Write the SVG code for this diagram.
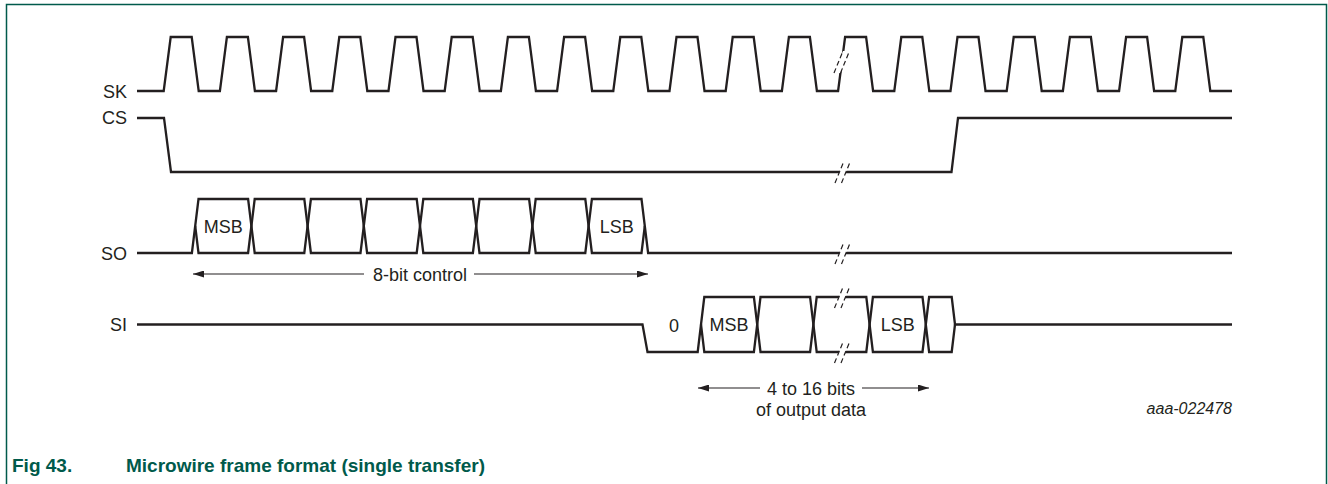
<svg xmlns="http://www.w3.org/2000/svg" xmlns:xlink="http://www.w3.org/1999/xlink" width="1328" height="484" viewBox="0 0 1328 484">
<style>
.sig{fill:none;stroke:#231f20;stroke-width:2.3;stroke-linejoin:miter;stroke-linecap:butt}
.dim{fill:none;stroke:#231f20;stroke-width:1.2}
.lbl{font-family:"Liberation Sans",Arial,sans-serif;font-size:18px;fill:#231f20}
.mid{text-anchor:middle}
.end{text-anchor:end}
.brk{fill:none;stroke:#231f20;stroke-width:1.2;stroke-dasharray:5 3}
.cap{font-family:"Liberation Sans",Arial,sans-serif;font-size:19px;font-weight:bold;fill:#005a4b}
</style>
<defs>
<marker id="ah" viewBox="0 0 11 7" refX="11" refY="3.5" markerWidth="11" markerHeight="7" markerUnits="userSpaceOnUse" orient="auto-start-reverse">
<path d="M0,0 L11,3.5 L0,7 z" fill="#231f20"/>
</marker>
<g id="brk">
<polygon points="-8,11 1,-11 7.5,-11 -1.5,11" fill="#ffffff"/>
<line class="brk" x1="-8" y1="11" x2="1" y2="-11"/>
<line class="brk" x1="-1.5" y1="11" x2="7.5" y2="-11"/>
</g>
</defs>
<rect x="0" y="0" width="1328" height="484" fill="#ffffff"/>
<rect x="6.5" y="4.5" width="1320" height="520" fill="none" stroke="#005a4b" stroke-width="1.5"/>

<g id="node-SK">
<text class="lbl end" x="127" y="97.5">SK</text>
<path class="sig" d="M137,91 H163.7 L170.7,37 H191.7 L198.7,91 H219.9 L226.9,37 H247.9 L254.9,91 H276.1 L283.1,37 H304.1 L311.1,91 H332.3 L339.3,37 H360.3 L367.3,91 H388.5 L395.5,37 H416.5 L423.5,91 H444.7 L451.7,37 H472.7 L479.7,91 H500.9 L507.9,37 H528.9 L535.9,91 H557.1 L564.1,37 H585.1 L592.1,91 H613.3 L620.3,37 H641.3 L648.3,91 H669.5 L676.5,37 H697.5 L704.5,91 H725.7 L732.7,37 H753.7 L760.7,91 H781.9 L788.9,37 H809.9 L816.9,91 H838.1 L845.1,37 H866.1 L873.1,91 H894.3 L901.3,37 H922.3 L929.3,91 H950.5 L957.5,37 H978.5 L985.5,91 H1006.7 L1013.7,37 H1034.7 L1041.7,91 H1062.9 L1069.9,37 H1090.9 L1097.9,91 H1119.1 L1126.1,37 H1147.1 L1154.1,91 H1175.3 L1182.3,37 H1203.3 L1210.3,91 H1232"/>
<use xlink:href="#brk" href="#brk" x="842" y="62"/>
</g>

<g id="node-CS">
<text class="lbl end" x="127" y="124">CS</text>
<path class="sig" d="M137,118 H164 L171,172 H951.5 L958,118 H1232"/>
<use xlink:href="#brk" href="#brk" x="843" y="172"/>
</g>

<g id="node-SO">
<text class="lbl end" x="127" y="259.5">SO</text>
<path class="sig" d="M137,253 H191.9 L198.5,199 H248.1 L254.7,253 H304.3 L310.9,199 H360.5 L367.1,253 H416.7 L423.3,199 H472.9 L479.5,253 H529.1 L535.7,199 H585.3 L591.9,253 H641.5 L644.8,226"/>
<path class="sig" d="M195.2,226 L198.5,253 H248.1 L254.7,199 H304.3 L310.9,253 H360.5 L367.1,199 H416.7 L423.3,253 H472.9 L479.5,199 H529.1 L535.7,253 H585.3 L591.9,199 H641.5 L648.1,253 H1232"/>
<text class="lbl mid" x="223.3" y="233">MSB</text>
<text class="lbl mid" x="616.7" y="233">LSB</text>
<use xlink:href="#brk" href="#brk" x="843" y="253"/>
</g>

<g id="node-SI">
<text class="lbl end" x="127" y="331">SI</text>
<path class="sig" d="M137,324.5 H642.5 L647.5,352 H697.7 L704.3,297 H753.9 L760.5,352 H810.1 L816.7,297 H866.3 L872.9,352 H922.5 L929.1,297 H951.7 L955,324.5 H1232"/>
<path class="sig" d="M701,324.5 L704.3,352 H753.9 L760.5,297 H810.1 L816.7,352 H866.3 L872.9,297 H922.5 L929.1,352 H951.7 L955,324.5"/>
<text class="lbl mid" x="674" y="331.5">0</text>
<text class="lbl mid" x="729" y="331">MSB</text>
<text class="lbl mid" x="897.7" y="331">LSB</text>
<use xlink:href="#brk" href="#brk" x="842.5" y="297"/>
<use xlink:href="#brk" href="#brk" x="842.5" y="352"/>
</g>

<g id="connectors">
<line class="dim" x1="364" y1="274" x2="193" y2="274" marker-end="url(#ah)"/>
<line class="dim" x1="474" y1="274" x2="648" y2="274" marker-end="url(#ah)"/>
<line class="dim" x1="760" y1="388" x2="698" y2="388" marker-end="url(#ah)"/>
<line class="dim" x1="862" y1="388" x2="929" y2="388" marker-end="url(#ah)"/>
</g>

<g id="labels">
<text class="lbl mid" x="420" y="280.5">8-bit control</text>
<text class="lbl mid" x="811" y="394.5">4 to 16 bits</text>
<text class="lbl mid" x="811" y="416">of output data</text>
<text x="1232" y="414" style="font-family:'Liberation Sans',Arial,sans-serif;font-size:16px;font-style:italic;fill:#231f20;text-anchor:end">aaa-022478</text>
</g>

<g id="caption">
<text class="cap" x="12" y="472">Fig 43.</text>
<text class="cap" x="126" y="472">Microwire frame format (single transfer)</text>
</g>
</svg>
